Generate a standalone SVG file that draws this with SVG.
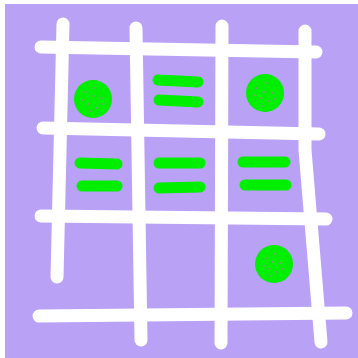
<svg xmlns="http://www.w3.org/2000/svg" width="358" height="358" viewBox="0 0 358 358">
<style>
.w{stroke:#ffffff;stroke-width:13;stroke-linecap:round;stroke-linejoin:round;fill:none}
.g{stroke:#00ee00;stroke-width:11;stroke-linecap:round;fill:none}
.c{fill:#00ee00}
.d{fill:#a08a9a}
</style>
<rect x="0" y="0" width="358" height="358" fill="#ffffff"/>
<rect x="5" y="4" width="353" height="354" fill="#b9a1f5"/>
<g id="grid">
<path class="w" d="M41 47 L316 52"/>
<path class="w" d="M43 128 L319 134"/>
<path class="w" d="M41 216 L326 219"/>
<path class="w" d="M39 316 L346 313"/>
<path class="w" d="M63 24 L57 277"/>
<path class="w" d="M136 28 L141 340"/>
<path class="w" d="M222 26 L221 343"/>
<path class="w" d="M305 31 L305 150 L321 342"/>
</g>
<g id="marks">
<circle class="c" cx="93" cy="99" r="19"/>
<circle class="c" cx="265" cy="93" r="19"/>
<circle class="c" cx="274" cy="264" r="19"/>
<g class="d">
<circle cx="85" cy="92" r="0.9"/><circle cx="95" cy="88" r="0.9"/><circle cx="101" cy="98" r="0.9"/><circle cx="88" cy="104" r="0.9"/><circle cx="97" cy="108" r="0.9"/><circle cx="83" cy="100" r="0.9"/><circle cx="92" cy="96" r="0.9"/><circle cx="103" cy="104" r="0.9"/><circle cx="90" cy="111" r="0.9"/>
<circle cx="257" cy="88" r="0.9"/><circle cx="266" cy="83" r="0.9"/><circle cx="272" cy="93" r="0.9"/><circle cx="260" cy="98" r="0.9"/><circle cx="268" cy="101" r="0.9"/><circle cx="255" cy="95" r="0.9"/><circle cx="264" cy="92" r="0.9"/><circle cx="275" cy="99" r="0.9"/><circle cx="262" cy="106" r="0.9"/>
<circle cx="266" cy="258" r="0.9"/><circle cx="275" cy="254" r="0.9"/><circle cx="281" cy="263" r="0.9"/><circle cx="269" cy="269" r="0.9"/><circle cx="277" cy="272" r="0.9"/><circle cx="264" cy="266" r="0.9"/><circle cx="273" cy="262" r="0.9"/><circle cx="283" cy="269" r="0.9"/><circle cx="271" cy="276" r="0.9"/>
</g>
<path class="g" d="M158 80 L198 82"/>
<path class="g" d="M159 100 L198 102"/>
<path class="g" d="M80 163 L117 164"/>
<path class="g" d="M82 186 L117 186"/>
<path class="g" d="M159 163 L200 163"/>
<path class="g" d="M159 188 L200 187"/>
<path class="g" d="M243 162 L285 162"/>
<path class="g" d="M245 185 L286 185"/>
</g>
</svg>
